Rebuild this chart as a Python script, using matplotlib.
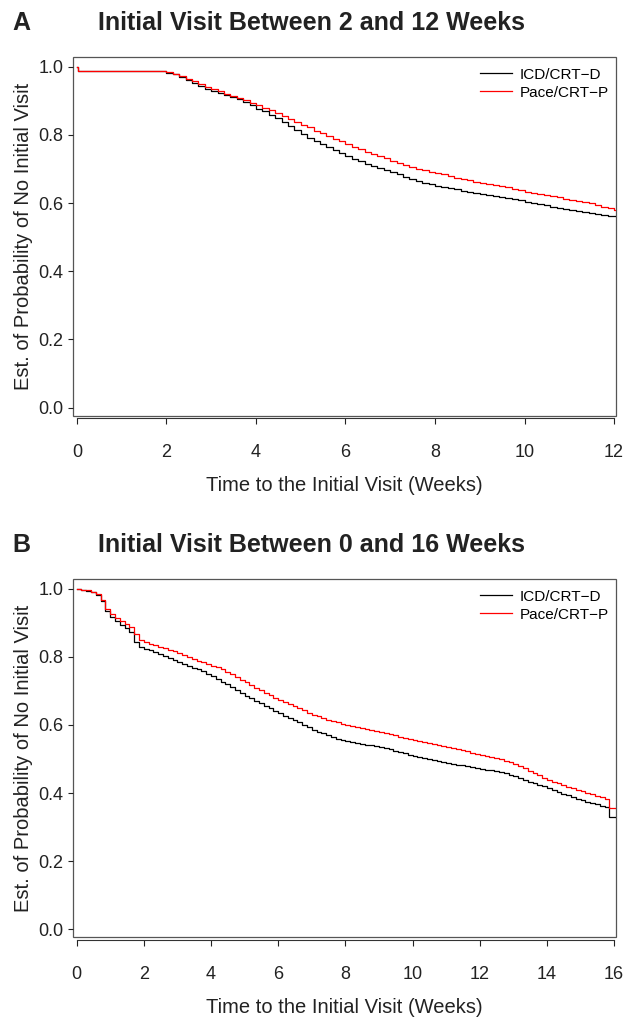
import numpy as np
import matplotlib
matplotlib.use("Agg")
import matplotlib.pyplot as plt
from matplotlib.patches import Rectangle

plt.rcParams['font.family'] = ['Liberation Sans', 'DejaVu Sans']

# ---- panel A: initial visit between 2 and 12 weeks (time in days) ----
a_days = [0, 0.2] + list(range(14, 85))
a_icd = [1.000, 0.988,
         0.983, 0.978, 0.971, 0.962, 0.953, 0.945, 0.936,
         0.929, 0.923, 0.917, 0.911, 0.906, 0.898, 0.889,
         0.877, 0.869, 0.859, 0.849, 0.838, 0.826, 0.814,
         0.803, 0.792, 0.781, 0.773, 0.764, 0.756, 0.747,
         0.738, 0.730, 0.723, 0.716, 0.709, 0.703, 0.696,
         0.690, 0.684, 0.678, 0.671, 0.665, 0.660, 0.655,
         0.651, 0.647, 0.643, 0.640, 0.637, 0.634, 0.631,
         0.628, 0.625, 0.622, 0.619, 0.615, 0.612, 0.608,
         0.604, 0.601, 0.598, 0.594, 0.590, 0.586, 0.583,
         0.580, 0.577, 0.574, 0.572, 0.569, 0.566, 0.563,
         0.561]
a_pace = [1.000, 0.988,
          0.984, 0.979, 0.973, 0.965, 0.957, 0.949, 0.941,
          0.935, 0.929, 0.920, 0.914, 0.909, 0.903, 0.895,
          0.887, 0.880, 0.873, 0.865, 0.857, 0.848, 0.839,
          0.830, 0.822, 0.813, 0.805, 0.797, 0.789, 0.781,
          0.773, 0.765, 0.759, 0.751, 0.745, 0.738, 0.731,
          0.724, 0.717, 0.712, 0.707, 0.701, 0.696, 0.692,
          0.688, 0.684, 0.679, 0.675, 0.671, 0.667, 0.663,
          0.659, 0.655, 0.652, 0.649, 0.646, 0.642, 0.638,
          0.634, 0.630, 0.627, 0.624, 0.620, 0.617, 0.613,
          0.610, 0.606, 0.603, 0.599, 0.595, 0.590, 0.585,
          0.581]

# ---- panel B: initial visit between 0 and 16 weeks ----
b_days = list(range(0, 112))
b_icd = [1.000, 0.998, 0.995, 0.991, 0.982, 0.965, 0.935,
         0.918, 0.905, 0.895, 0.885, 0.872, 0.845, 0.830,
         0.824, 0.819, 0.814, 0.808, 0.802, 0.797, 0.791,
         0.785, 0.779, 0.773, 0.768, 0.763, 0.758, 0.751,
         0.743, 0.735, 0.727, 0.719, 0.711, 0.703, 0.695,
         0.685, 0.678, 0.671, 0.664, 0.657, 0.650, 0.642,
         0.634, 0.627, 0.621, 0.615, 0.609, 0.601, 0.594,
         0.586, 0.580, 0.575, 0.570, 0.565, 0.560, 0.555,
         0.552, 0.549, 0.547, 0.545, 0.542, 0.540, 0.537,
         0.534, 0.531, 0.528, 0.524, 0.520, 0.517, 0.513,
         0.509, 0.505, 0.502, 0.499, 0.496, 0.493, 0.490,
         0.487, 0.485, 0.483, 0.481, 0.479, 0.476, 0.474,
         0.471, 0.469, 0.467, 0.465, 0.462, 0.458, 0.454,
         0.449, 0.444, 0.438, 0.433, 0.428, 0.424, 0.420,
         0.415, 0.409, 0.403, 0.397, 0.393, 0.388, 0.383,
         0.379, 0.375, 0.371, 0.367, 0.363, 0.358, 0.330]
b_pace = [1.000, 0.998, 0.996, 0.992, 0.984, 0.968, 0.940,
          0.925, 0.914, 0.905, 0.897, 0.888, 0.868, 0.850,
          0.843, 0.839, 0.835, 0.830, 0.825, 0.820, 0.816,
          0.811, 0.806, 0.799, 0.794, 0.789, 0.784, 0.779,
          0.774, 0.769, 0.763, 0.757, 0.750, 0.742, 0.733,
          0.725, 0.717, 0.710, 0.702, 0.695, 0.689, 0.680,
          0.673, 0.667, 0.661, 0.655, 0.649, 0.643, 0.636,
          0.630, 0.625, 0.620, 0.616, 0.612, 0.608, 0.604,
          0.600, 0.597, 0.594, 0.591, 0.588, 0.585, 0.582,
          0.578, 0.575, 0.572, 0.569, 0.566, 0.563, 0.560,
          0.556, 0.553, 0.550, 0.547, 0.544, 0.541, 0.538,
          0.535, 0.532, 0.529, 0.526, 0.523, 0.519, 0.516,
          0.512, 0.509, 0.506, 0.502, 0.499, 0.495, 0.490,
          0.485, 0.479, 0.473, 0.466, 0.459, 0.452, 0.445,
          0.438, 0.433, 0.428, 0.423, 0.419, 0.414, 0.409,
          0.405, 0.401, 0.397, 0.392, 0.388, 0.383, 0.356]

groups = ["ICD/CRT\u2212D", "Pace/CRT\u2212P"]
colors = ["black", "red"]
yticks = [0.0, 0.2, 0.4, 0.6, 0.8, 1.0]
txt = "#222222"


def km_panel(ax, days, curves, end_day, xmax):
  for vals, lab, col in zip(curves, groups, colors):
    t = np.append(np.array(days, dtype=float), end_day) / 7.0
    v = np.append(np.array(vals), vals[-1])
    ax.step(t, v, where="post", color=col, lw=0.9, label=lab)
  ax.set_xlim(-0.0055 * xmax - 0.02, xmax * 1.0035)
  ax.set_ylim(-0.024, 1.028)
  ax.set_xticks(np.arange(0, xmax + 1, 2))
  ax.set_yticks(yticks)
  ax.set_yticklabels([f"{y:.1f}" for y in yticks])
  for s in ["top", "right", "left"]:
    ax.spines[s].set_visible(False)
  ax.spines["bottom"].set_position(("outward", 2))
  ax.spines["bottom"].set_bounds(0, xmax)
  ax.spines["bottom"].set_color("#333333")
  ax.add_patch(Rectangle((0, 0), 1, 1, transform=ax.transAxes, fill=False,
                         lw=0.9, edgecolor="#555555", clip_on=False))
  ax.tick_params(axis="x", length=4, width=0.8, pad=14.5, labelsize=13,
                 colors=txt)
  ax.tick_params(axis="y", length=3.5, width=0.8, pad=3.5, labelsize=13,
                 colors=txt)
  ax.set_xlabel("Time to the Initial Visit (Weeks)", fontsize=14.5,
                color=txt, labelpad=11)
  ax.set_ylabel("Est. of Probability of No Initial Visit", fontsize=14.5,
                color=txt, labelpad=4)
  ax.legend(loc="upper right", bbox_to_anchor=(1.0, 0.99), frameon=False,
            fontsize=11, handlelength=2.1, borderpad=0.3, borderaxespad=0.15,
            labelspacing=0.25, handletextpad=0.5)


fig = plt.figure(figsize=(6.25, 10.17), dpi=100)
axA = fig.add_axes([73 / 625, 1 - 415.7 / 1017, 543 / 625, 358.4 / 1017])
axB = fig.add_axes([73 / 625, 1 - 937.3 / 1017, 543 / 625, 358 / 1017])

km_panel(axA, a_days, [a_icd, a_pace], 84.3, 12)
km_panel(axB, b_days, [b_icd, b_pace], 112.3, 16)

for lab, title, ypix in [("A", "Initial Visit Between 2 and 12 Weeks", 23),
                         ("B", "Initial Visit Between 0 and 16 Weeks", 545)]:
  fig.text(12 / 625, 1 - ypix / 1017, lab, fontsize=18, fontweight="bold",
           va="center", color=txt)
  fig.text(98 / 625, 1 - ypix / 1017, title, fontsize=18, fontweight="bold",
           va="center", color=txt)

fig.savefig("out.png", dpi=100)
